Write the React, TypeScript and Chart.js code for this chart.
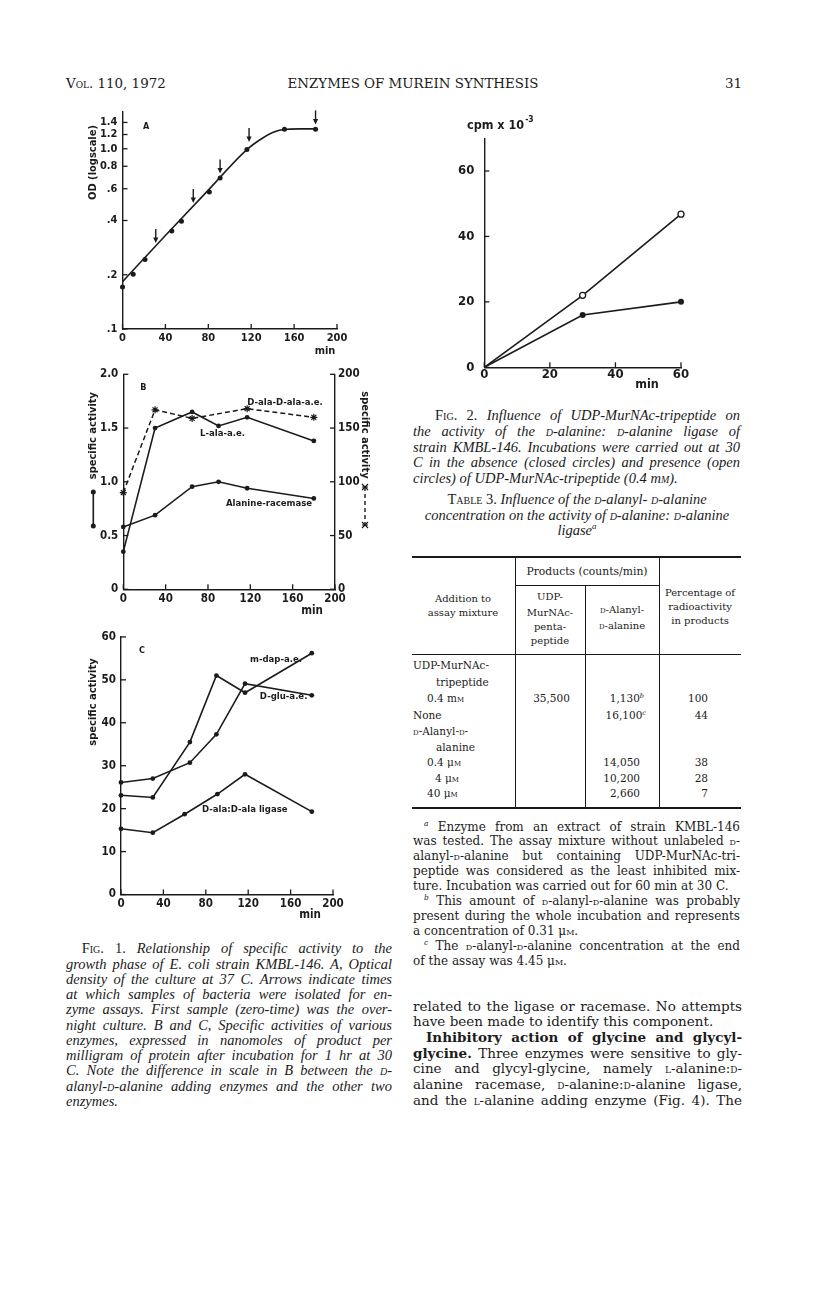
import React, { useEffect, useRef } from "react";
import { Chart, registerables } from "chart.js";
Chart.register(...registerables);

// ---------------- data ----------------
// Fig. 1A : optical density (log scale) vs time
const odTimes = [0, 10, 21, 46, 55, 81, 91, 116, 151, 180];
const odValues = [0.171, 0.201, 0.243, 0.35, 0.396, 0.576, 0.688, 0.99, 1.285, 1.285];
const odCurveTimes = [0, 40, 80, 116, 130, 140, 150, 165, 180];
const odCurveValues = [0.183, 0.33, 0.59, 0.99, 1.14, 1.23, 1.28, 1.29, 1.29];
const sampleArrowTimes = [31, 66, 91, 118, 180];
const sampleArrowTips = [0.3, 0.5, 0.73, 1.09, 1.365];
const odTicks = [0.1, 0.2, 0.4, 0.6, 0.8, 1.0, 1.2, 1.4];
const odTickLabels = [".1", ".2", ".4", ".6", "0.8", "1.0", "1.2", "1.4"];
const minuteTicks = [0, 40, 80, 120, 160, 200];

// Fig. 1B
const sampleTimes = [0, 30, 65, 90, 117, 180];
const lAlaAE = [0.35, 1.5, 1.65, 1.52, 1.6, 1.38];
const alanineRacemase = [0.58, 0.69, 0.955, 1.0, 0.94, 0.845];
const dAlaDAlaTimes = [0, 30, 65, 117, 180];
const dAlaDAlaAE = [90, 167, 159, 168, 160];
const bLeftTicks = [0, 0.5, 1.0, 1.5, 2.0];
const bRightTicks = [0, 50, 100, 150, 200];

// Fig. 1C
const mDapAE = [23.1, 22.6, 35.5, 51.0, 47.0, 56.2];
const dGluAE = [26.1, 27.0, 30.7, 37.3, 49.1, 46.4];
const ligaseTimes = [0, 30, 60, 91, 117, 180];
const dAlaLigase = [15.3, 14.4, 18.7, 23.4, 28.0, 19.3];
const cTicks = [0, 10, 20, 30, 40, 50, 60];

// Fig. 2
const fig2Times = [0, 30, 60];
const withTripeptide = [0, 22, 46.8];
const withoutTripeptide = [0, 16, 20];
const fig2YTicks = [0, 20, 40, 60];
const fig2XTicks = [0, 20, 40, 60];

// ---------------- styling helpers ----------------
const INK = "#1b1b1b";
const CF = "'Liberation Sans Narrow', 'DejaVu Sans Condensed', 'Arial Narrow', sans-serif";
const cfont = (size: number, weight = "bold") => `${weight} ${size}px ${CF}`;
const ROMAN = "'DejaVu Serif', 'Liberation Serif', serif";
const ITAL = "'Liberation Serif', 'DejaVu Serif', serif";

const pts = (xs: number[], ys: number[]) => xs.map((x, i) => ({ x, y: ys[i] }));

const baseOptions = {
  responsive: false,
  maintainAspectRatio: false,
  animation: false,
  devicePixelRatio: 1,
  events: [],
};

function axisX(min: number, max: number, ticks: number[], height: number, size: number, pad = 3) {
  return {
    type: "linear",
    position: "bottom",
    min,
    max,
    grid: { display: false, drawTicks: false },
    border: { display: true, color: INK, width: 1.4 },
    ticks: {
      color: INK,
      font: { family: CF, size, weight: "bold" },
      padding: pad,
      maxRotation: 0,
      autoSkip: false,
      callback: (v: number) => String(v),
    },
    afterBuildTicks: (s: any) => {
      s.ticks = ticks.map((v) => ({ value: v }));
    },
    afterFit: (s: any) => {
      s.height = height;
    },
  };
}

function axisY(
  min: number,
  max: number,
  ticks: number[],
  width: number,
  size: number,
  fmt: (v: number) => string,
  position = "left",
  pad = 5
) {
  return {
    type: "linear",
    position,
    min,
    max,
    grid: { display: false, drawTicks: false },
    border: { display: true, color: INK, width: 1.4 },
    ticks: {
      color: INK,
      font: { family: CF, size, weight: "bold" },
      padding: pad,
      autoSkip: false,
      callback: (v: number) => fmt(v),
    },
    afterBuildTicks: (s: any) => {
      s.ticks = ticks.map((v) => ({ value: v }));
    },
    afterFit: (s: any) => {
      s.width = width;
    },
  };
}

// inward tick marks on every axis
const innerTicks = {
  id: "innerTicks",
  afterDatasetsDraw(chart: any) {
    const ctx = chart.ctx;
    const len = 5;
    ctx.save();
    ctx.strokeStyle = INK;
    ctx.lineWidth = 1.3;
    Object.values(chart.scales).forEach((s: any) => {
      s.ticks.forEach((t: any) => {
        const p = s.getPixelForValue(t.value);
        ctx.beginPath();
        if (s.isHorizontal()) {
          ctx.moveTo(p, s.top);
          ctx.lineTo(p, s.top - len);
        } else if (s.position === "left") {
          ctx.moveTo(s.right, p);
          ctx.lineTo(s.right + len, p);
        } else {
          ctx.moveTo(s.left, p);
          ctx.lineTo(s.left - len, p);
        }
        ctx.stroke();
      });
    });
    ctx.restore();
  },
};

function txt(ctx: any, s: string, x: number, y: number, font: string, align = "left", rot = 0) {
  ctx.save();
  ctx.translate(x, y);
  ctx.rotate(rot);
  ctx.font = font;
  ctx.textAlign = align;
  ctx.textBaseline = "middle";
  ctx.fillStyle = INK;
  ctx.fillText(s, 0, 0);
  ctx.restore();
}

function dataLabel(chart: any, s: string, xv: number, yv: number, size = 9.5, yid = "y") {
  const x = chart.scales.x.getPixelForValue(xv);
  const y = chart.scales[yid].getPixelForValue(yv);
  txt(chart.ctx, s, x, y, cfont(size), "left");
}

function dot(ctx: any, x: number, y: number, r = 2.5) {
  ctx.beginPath();
  ctx.arc(x, y, r, 0, Math.PI * 2);
  ctx.fillStyle = INK;
  ctx.fill();
}

function star(ctx: any, x: number, y: number, r = 3.5) {
  ctx.beginPath();
  ctx.moveTo(x - r, y - r);
  ctx.lineTo(x + r, y + r);
  ctx.moveTo(x + r, y - r);
  ctx.lineTo(x - r, y + r);
  ctx.moveTo(x - r, y);
  ctx.lineTo(x + r, y);
  ctx.stroke();
}

const decorPlugin = (id: string, draw: (chart: any, ctx: any) => void) => ({
  id,
  afterDraw(chart: any) {
    const ctx = chart.ctx;
    ctx.save();
    draw(chart, ctx);
    ctx.restore();
  },
});

// ---------------- chart configs ----------------
function configA() {
  return {
    type: "line",
    data: {
      datasets: [
        {
          data: pts(odCurveTimes, odCurveValues),
          borderColor: INK,
          borderWidth: 1.6,
          pointRadius: 0,
          cubicInterpolationMode: "monotone",
          clip: false,
        },
        {
          data: pts(odTimes, odValues),
          showLine: false,
          pointRadius: 2.5,
          pointBackgroundColor: INK,
          pointBorderWidth: 0,
          clip: false,
        },
      ],
    },
    options: {
      ...baseOptions,
      layout: { padding: { left: 0, right: 23, top: 12, bottom: 0 } },
      scales: {
        x: axisX(0, 200, minuteTicks, 31, 11),
        y: {
          ...axisY(0.1, 1.6, odTicks, 62.5, 11, (v) => odTickLabels[odTicks.indexOf(v)] ?? ""),
          type: "logarithmic",
        },
      },
      plugins: { legend: { display: false }, tooltip: { enabled: false } },
    },
    plugins: [
      innerTicks,
      decorPlugin("decorA", (chart, ctx) => {
        dataLabel(chart, "A", 19, 1.33, 9);
        const sx = chart.scales.x;
        const sy = chart.scales.y;
        ctx.strokeStyle = INK;
        ctx.fillStyle = INK;
        ctx.lineWidth = 1.4;
        sampleArrowTimes.forEach((t, i) => {
          const x = sx.getPixelForValue(t);
          const y = sy.getPixelForValue(sampleArrowTips[i]);
          ctx.beginPath();
          ctx.moveTo(x, y - 14);
          ctx.lineTo(x, y - 4);
          ctx.stroke();
          ctx.beginPath();
          ctx.moveTo(x - 2.6, y - 5.5);
          ctx.lineTo(x + 2.6, y - 5.5);
          ctx.lineTo(x, y);
          ctx.closePath();
          ctx.fill();
        });
        txt(ctx, "OD (logscale)", 33.5, 62.5, cfont(11), "center", -Math.PI / 2);
        txt(ctx, "min", 265, 251, cfont(11), "center");
      }),
    ],
  };
}

function configB() {
  return {
    type: "line",
    data: {
      datasets: [
        {
          data: pts(sampleTimes, lAlaAE),
          borderColor: INK,
          borderWidth: 1.6,
          pointRadius: 2.4,
          pointBackgroundColor: INK,
          pointBorderWidth: 0,
          yAxisID: "y",
          clip: false,
        },
        {
          data: pts(sampleTimes, alanineRacemase),
          borderColor: INK,
          borderWidth: 1.6,
          pointRadius: 2.4,
          pointBackgroundColor: INK,
          pointBorderWidth: 0,
          yAxisID: "y",
          clip: false,
        },
        {
          data: pts(dAlaDAlaTimes, dAlaDAlaAE),
          borderColor: INK,
          borderWidth: 1.5,
          borderDash: [5, 3],
          pointStyle: "star",
          pointRadius: 3.5,
          pointBorderColor: INK,
          pointBorderWidth: 1.2,
          yAxisID: "y2",
          clip: false,
        },
      ],
    },
    options: {
      ...baseOptions,
      layout: { padding: { left: 0, right: 0, top: 14.3, bottom: 0 } },
      scales: {
        x: axisX(0, 200, minuteTicks, 30.7, 11.5),
        y: axisY(0, 2, bLeftTicks, 63.3, 11.5, (v) => (v === 0 ? "0" : v.toFixed(1))),
        y2: axisY(0, 200, bRightTicks, 45, 11.5, (v) => String(v), "right", 3),
      },
      plugins: { legend: { display: false }, tooltip: { enabled: false } },
    },
    plugins: [
      innerTicks,
      decorPlugin("decorB", (chart, ctx) => {
        dataLabel(chart, "B", 16, 1.88, 9);
        dataLabel(chart, "D-ala-D-ala-a.e.", 117, 1.735);
        dataLabel(chart, "L-ala-a.e.", 72.5, 1.445);
        dataLabel(chart, "Alanine-racemase", 97, 0.8);
        txt(ctx, "specific activity", 33.3, 75.6, cfont(11), "center", -Math.PI / 2);
        ctx.strokeStyle = INK;
        ctx.lineWidth = 1.6;
        ctx.beginPath();
        ctx.moveTo(33.3, 132);
        ctx.lineTo(33.3, 166);
        ctx.stroke();
        dot(ctx, 33.3, 132);
        dot(ctx, 33.3, 166);
        txt(ctx, "specific activity", 305, 75, cfont(11), "center", Math.PI / 2);
        ctx.setLineDash([4, 3]);
        ctx.lineWidth = 1.4;
        ctx.beginPath();
        ctx.moveTo(305, 127);
        ctx.lineTo(305, 165);
        ctx.stroke();
        ctx.setLineDash([]);
        ctx.lineWidth = 1.2;
        star(ctx, 305, 127, 3);
        star(ctx, 305, 165, 3);
        txt(ctx, "min", 252, 251, cfont(11.5), "center");
      }),
    ],
  };
}

function configC() {
  const ds = (xs: number[], ys: number[]) => ({
    data: pts(xs, ys),
    borderColor: INK,
    borderWidth: 1.6,
    pointRadius: 2.4,
    pointBackgroundColor: INK,
    pointBorderWidth: 0,
    clip: false,
  });
  return {
    type: "line",
    data: {
      datasets: [ds(sampleTimes, mDapAE), ds(sampleTimes, dGluAE), ds(ligaseTimes, dAlaLigase)],
    },
    options: {
      ...baseOptions,
      layout: { padding: { left: 0, right: 37, top: 9.5, bottom: 0 } },
      scales: {
        x: axisX(0, 200, minuteTicks, 30.5, 11.5),
        y: axisY(0, 60, cTicks, 61, 11.5, (v) => String(v)),
      },
      plugins: { legend: { display: false }, tooltip: { enabled: false } },
    },
    plugins: [
      innerTicks,
      decorPlugin("decorC", (chart, ctx) => {
        dataLabel(chart, "C", 17, 56.9, 9);
        dataLabel(chart, "m-dap-a.e.", 121.7, 54.8);
        dataLabel(chart, "D-glu-a.e.", 131, 46);
        dataLabel(chart, "D-ala:D-ala ligase", 76.4, 19.7);
        txt(ctx, "specific activity", 33, 77, cfont(11), "center", -Math.PI / 2);
        txt(ctx, "min", 250, 290, cfont(11.5), "center");
      }),
    ],
  };
}

function configFig2() {
  return {
    type: "line",
    data: {
      datasets: [
        {
          data: pts(fig2Times, withTripeptide),
          borderColor: INK,
          borderWidth: 1.6,
          pointRadius: [0, 3, 3],
          pointBackgroundColor: "#ffffff",
          pointBorderColor: INK,
          pointBorderWidth: 1.3,
          clip: false,
        },
        {
          data: pts(fig2Times, withoutTripeptide),
          borderColor: INK,
          borderWidth: 1.6,
          pointRadius: [0, 3, 3],
          pointBackgroundColor: INK,
          pointBorderWidth: 0,
          clip: false,
        },
      ],
    },
    options: {
      ...baseOptions,
      layout: { padding: { left: 0, right: 29, top: 33.3, bottom: 0 } },
      scales: {
        x: axisX(0, 60, fig2XTicks, 27.7, 13, 0),
        y: axisY(0, 70, fig2YTicks, 54.3, 13, (v) => String(v), "left", 10),
      },
      plugins: { legend: { display: false }, tooltip: { enabled: false } },
    },
    plugins: [
      innerTicks,
      decorPlugin("decorF2", (chart, ctx) => {
        ctx.font = cfont(12.5, "bold");
        const w = ctx.measureText("cpm x 10").width;
        txt(ctx, "cpm x 10", 37, 21, cfont(12.5, "bold"), "left");
        txt(ctx, "-3", 37 + w + 1, 15, cfont(8.5, "bold"), "left");
        txt(ctx, "min", 217, 280, cfont(12.5, "bold"), "center");
      }),
    ],
  };
}

function ChartBox({ left, top, width, height, make }: any) {
  const ref = useRef<HTMLCanvasElement>(null);
  useEffect(() => {
    const chart = new Chart(ref.current as any, make() as any);
    return () => chart.destroy();
  }, []);
  return (
    <canvas
      ref={ref}
      width={width}
      height={height}
      style={{ position: "absolute", left, top, width, height }}
    />
  );
}

// ---------------- text helpers ----------------
const S = ({ children }: any) => <span style={{ fontVariant: "small-caps" }}>{children}</span>;
const Sup = ({ children }: any) => (
  <sup style={{ fontSize: "0.62em", lineHeight: 0, fontStyle: "italic" }}>{children}</sup>
);

function L({ x, y, w = 330, size = 14, align = "justify", italic = false, bold = false, lh = 16, font, children }: any) {
  return (
    <div
      style={{
        position: "absolute",
        left: x,
        top: y - lh / 2,
        width: w,
        height: lh,
        fontSize: size,
        lineHeight: lh + "px",
        textAlign: align,
        textAlignLast: align,
        fontStyle: italic ? "italic" : "normal",
        fontWeight: bold ? "bold" : "normal",
        fontFamily: font ?? (italic ? ITAL : ROMAN),
        whiteSpace: "nowrap",
      }}
    >
      {children}
    </div>
  );
}

const Cc = ({ cx, y, size = 10, children }: any) => (
  <L x={cx - 80} y={y} w={160} size={size} align="center">
    {children}
  </L>
);
const Rr = ({ rx, y, size = 10.5, children }: any) => (
  <L x={rx - 120} y={y} w={120} size={size} align="right">
    {children}
  </L>
);
const Rule = ({ x, y, w, h }: any) => (
  <div style={{ position: "absolute", left: x, top: y, width: w, height: h, background: INK }} />
);

export default function App() {
  const fig1 = [
    "growth phase of E. coli strain KMBL-146. A, Optical",
    "density of the culture at 37 C. Arrows indicate times",
    "at which samples of bacteria were isolated for en-",
    "zyme assays. First sample (zero-time) was the over-",
    "night culture. B and C, Specific activities of various",
    "enzymes, expressed in nanomoles of product per",
    "milligram of protein after incubation for 1 hr at 30",
  ];
  const f1y = (i: number) => 948.3 + i * 15.27;
  const bodyY = (i: number) => 1005.5 + i * 15.7;
  const FN = 12;
  const BODY = 13.5;
  const CAP = 14.5;
  const TB = 10.5;
  return (
    <div
      style={{
        position: "absolute",
        left: 0,
        top: 0,
        width: 816,
        height: 1303,
        background: "#fff",
        color: INK,
        fontFamily: ROMAN,
        overflow: "hidden",
      }}
    >
      {/* running header */}
      <L x={66} y={84} w={200} size={13.4} align="left">
        V<S>ol</S>. 110, 1972
      </L>
      <L x={258} y={84} w={310} size={13.4} align="center">
        ENZYMES OF MUREIN SYNTHESIS
      </L>
      <L x={642} y={84} w={100} size={13.4} align="right">
        31
      </L>

      {/* charts */}
      <ChartBox left={60} top={100} width={300} height={260} make={configA} />
      <ChartBox left={60} top={360} width={320} height={260} make={configB} />
      <ChartBox left={60} top={625} width={310} height={300} make={configC} />
      <ChartBox left={430} top={105} width={280} height={290} make={configFig2} />

      {/* Fig. 1 caption */}
      <L x={81.7} y={f1y(0)} w={310.3} size={CAP} italic>
        <span style={{ fontStyle: "normal" }}>
          F<S>ig</S>. 1.
        </span>{" "}
        Relationship of specific activity to the
      </L>
      {fig1.map((s, i) => (
        <L key={i} x={66} y={f1y(i + 1)} w={326} size={CAP} italic>
          {s}
        </L>
      ))}
      <L x={66} y={f1y(8)} w={326} size={CAP} italic>
        C. Note the difference in scale in B between the <S>d</S>-
      </L>
      <L x={66} y={f1y(9)} w={326} size={CAP} italic>
        alanyl-<S>d</S>-alanine adding enzymes and the other two
      </L>
      <L x={66} y={f1y(10)} w={326} size={CAP} italic align="left">
        enzymes.
      </L>

      {/* Fig. 2 caption */}
      <L x={435} y={415} w={305} size={CAP} italic>
        <span style={{ fontStyle: "normal" }}>
          F<S>ig</S>. 2.
        </span>{" "}
        Influence of UDP-MurNAc-tripeptide on
      </L>
      <L x={413} y={431} w={327} size={CAP} italic>
        the activity of the <S>d</S>-alanine: <S>d</S>-alanine ligase of
      </L>
      <L x={413} y={446.5} w={327} size={CAP} italic>
        strain KMBL-146. Incubations were carried out at 30
      </L>
      <L x={413} y={462} w={327} size={CAP} italic>
        C in the absence (closed circles) and presence (open
      </L>
      <L x={413} y={477.5} w={327} size={CAP} italic align="left">
        circles) of UDP-MurNAc-tripeptide (0.4 m<S>m</S>).
      </L>

      {/* Table 3 title */}
      <L x={412} y={499} w={330} size={CAP} italic align="center">
        <span style={{ fontStyle: "normal" }}>
          T<S>able</S> 3.
        </span>{" "}
        Influence of the <S>d</S>-alanyl- <S>d</S>-alanine
      </L>
      <L x={412} y={515} w={330} size={CAP} italic align="center">
        concentration on the activity of <S>d</S>-alanine: <S>d</S>-alanine
      </L>
      <L x={412} y={530} w={330} size={CAP} italic align="center">
        ligase<Sup>a</Sup>
      </L>

      {/* Table 3 rules */}
      <Rule x={412} y={555.5} w={329} h={2} />
      <Rule x={514.5} y={557} w={1} h={251} />
      <Rule x={658.8} y={557} w={1} h={251} />
      <Rule x={584.5} y={585} w={1} h={223} />
      <Rule x={514.5} y={584.5} w={145} h={1} />
      <Rule x={412} y={653.5} w={329} h={1} />
      <Rule x={412} y={807} w={329} h={2} />

      {/* Table 3 header */}
      <Cc cx={587} y={572} size={10.8}>Products (counts/min)</Cc>
      <Cc cx={463} y={599}>Addition to</Cc>
      <Cc cx={463} y={613}>assay mixture</Cc>
      <Cc cx={550} y={597}>UDP-</Cc>
      <Cc cx={550} y={612.5}>MurNAc-</Cc>
      <Cc cx={550} y={627}>penta-</Cc>
      <Cc cx={550} y={641}>peptide</Cc>
      <Cc cx={622} y={610}>
        <S>d</S>-Alanyl-
      </Cc>
      <Cc cx={622} y={625.5}>
        <S>d</S>-alanine
      </Cc>
      <Cc cx={700} y={593}>Percentage of</Cc>
      <Cc cx={700} y={606.5}>radioactivity</Cc>
      <Cc cx={700} y={620.5}>in products</Cc>

      {/* Table 3 body */}
      <L x={413} y={665} w={110} size={TB} align="left">UDP-MurNAc-</L>
      <L x={436} y={682} w={90} size={TB} align="left">tripeptide</L>
      <L x={427} y={698.3} w={90} size={TB} align="left">0.4 m<S>m</S></L>
      <L x={413} y={715} w={90} size={TB} align="left">None</L>
      <L x={413} y={730.5} w={100} size={TB} align="left"><S>d</S>-Alanyl-<S>d</S>-</L>
      <L x={436} y={746.5} w={90} size={TB} align="left">alanine</L>
      <L x={427} y={761.5} w={90} size={TB} align="left">0.4 μ<S>m</S></L>
      <L x={435} y={777.5} w={90} size={TB} align="left">4 μ<S>m</S></L>
      <L x={427} y={793.3} w={90} size={TB} align="left">40 μ<S>m</S></L>

      <Cc cx={551.5} y={698.3} size={TB}>35,500</Cc>
      <L x={520} y={698.3} w={124} size={TB} align="right">1,130<Sup>b</Sup></L>
      <L x={520} y={715} w={126} size={TB} align="right">16,100<Sup>c</Sup></L>
      <Rr rx={640} y={761.5}>14,050</Rr>
      <Rr rx={640} y={777.5}>10,200</Rr>
      <Rr rx={640} y={793.3}>2,660</Rr>

      <Rr rx={708} y={698.3}>100</Rr>
      <Rr rx={708} y={715}>44</Rr>
      <Rr rx={708} y={761.5}>38</Rr>
      <Rr rx={708} y={777.5}>28</Rr>
      <Rr rx={708} y={793.3}>7</Rr>

      {/* footnotes */}
      <L x={424} y={826.5} w={316} size={FN}>
        <Sup>a</Sup> Enzyme from an extract of strain KMBL-146
      </L>
      <L x={413} y={841} w={327} size={FN}>
        was tested. The assay mixture without unlabeled <S>d</S>-
      </L>
      <L x={413} y={855.7} w={327} size={FN}>
        alanyl-<S>d</S>-alanine but containing UDP-MurNAc-tri-
      </L>
      <L x={413} y={870.7} w={327} size={FN}>
        peptide was considered as the least inhibited mix-
      </L>
      <L x={413} y={885.7} w={327} size={FN} align="left">
        ture. Incubation was carried out for 60 min at 30 C.
      </L>
      <L x={424} y={900.7} w={316} size={FN}>
        <Sup>b</Sup> This amount of <S>d</S>-alanyl-<S>d</S>-alanine was probably
      </L>
      <L x={413} y={916} w={327} size={FN}>
        present during the whole incubation and represents
      </L>
      <L x={413} y={930.7} w={327} size={FN} align="left">
        a concentration of 0.31 μ<S>m</S>.
      </L>
      <L x={424} y={946} w={316} size={FN}>
        <Sup>c</Sup> The <S>d</S>-alanyl-<S>d</S>-alanine concentration at the end
      </L>
      <L x={413} y={960.7} w={327} size={FN} align="left">
        of the assay was 4.45 μ<S>m</S>.
      </L>

      {/* body text */}
      <L x={413} y={bodyY(0)} w={329} size={BODY}>
        related to the ligase or racemase. No attempts
      </L>
      <L x={413} y={bodyY(1)} w={329} size={BODY} align="left">
        have been made to identify this component.
      </L>
      <L x={426} y={bodyY(2)} w={316} size={13.5} bold>
        Inhibitory action of glycine and glycyl-
      </L>
      <L x={413} y={bodyY(3)} w={329} size={BODY}>
        <b>glycine.</b> Three enzymes were sensitive to gly-
      </L>
      <L x={413} y={bodyY(4)} w={329} size={BODY}>
        cine and glycyl-glycine, namely <S>l</S>-alanine:<S>d</S>-
      </L>
      <L x={413} y={bodyY(5)} w={329} size={BODY}>
        alanine racemase, <S>d</S>-alanine:<S>d</S>-alanine ligase,
      </L>
      <L x={413} y={bodyY(6)} w={329} size={BODY}>
        and the <S>l</S>-alanine adding enzyme (Fig. 4). The
      </L>
    </div>
  );
}
